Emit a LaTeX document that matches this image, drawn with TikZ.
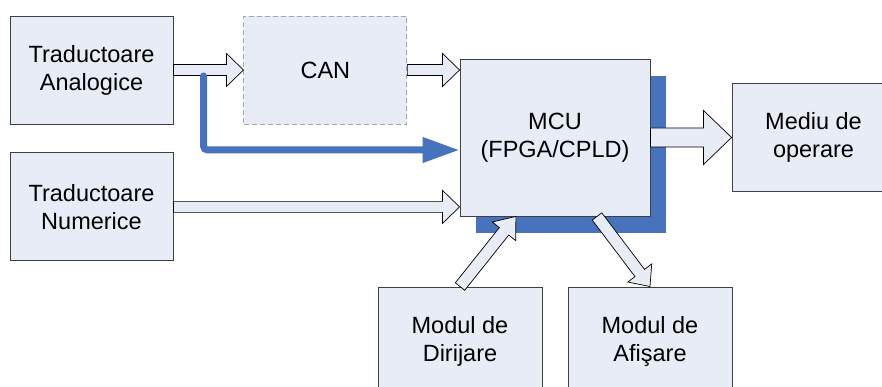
\documentclass[tikz,border=0pt]{standalone}
\usepackage{fontspec}
\setmainfont{Liberation Sans}
\usetikzlibrary{arrows.meta, positioning, calc, backgrounds}
\definecolor{boxfill}{RGB}{232,236,247}
\definecolor{boxline}{RGB}{64,64,64}
\definecolor{mcublue}{RGB}{70,114,190}

% hollow block arrow: shaft half width, head half width, head length, from, to
\newcommand\fatarrow[5]{%
  \coordinate (fa-base) at ($(#5)!#3!(#4)$);
  \filldraw[fatarr] ($(#4)!#1!90:(#5)$) -- ($(fa-base)!#1!90:(#5)$)
    -- ($(fa-base)!#2!90:(#5)$) -- (#5) -- ($(fa-base)!#2!-90:(#5)$)
    -- ($(fa-base)!#1!-90:(#5)$) -- ($(#4)!#1!-90:(#5)$) -- cycle;
}

\begin{document}
\begin{tikzpicture}[
  x=1pt, y=-1pt,
  box/.style    = {rectangle, draw=boxline, fill=boxfill, line width=0.9pt,
                   minimum width=163pt, minimum height=108pt, inner sep=0pt,
                   align=center, font=\fontsize{23.5}{28}\selectfont},
  fatarr/.style = {draw=black, fill=boxfill, line width=0.7pt, line join=miter},
  sig/.style    = {draw=mcublue, line width=7pt, line cap=round,
                   rounded corners=4pt, -{Triangle[length=37pt, width=24pt]}},
]
  \useasboundingbox (0,0) rectangle (882,387);
  \node[box] (ta) at (91.5,70) {Traductoare\\Analogice};
  \node[box, draw=gray!70, dash pattern=on 5pt off 3pt, right=70pt of ta] (can) {CAN};
  \node[box, below=28pt of ta] (tn) {Traductoare\\Numerice};
  \node[box, minimum width=190pt, minimum height=157pt] (mcu) at (555,137.5)
    {MCU\\(FPGA/CPLD)};
  \scoped[on background layer]
    \fill[mcublue] ([shift={(16,17)}]mcu.north west)
      rectangle ([shift={(16,17)}]mcu.south east);
  \node[box] (med) at (813.5,137) {Mediu de\\operare};
  \node[box, minimum width=164pt] (dir) at (460,341) {Modul de\\Dirijare};
  \node[box, minimum width=164pt] (afs) at (650,341) {Modul de\\Afişare};

  \coordinate (canin) at (can.east -| mcu.west);
  \coordinate (tnin)  at (tn.east -| mcu.west);
  \coordinate (medin) at (mcu.east -| med.west);
  \coordinate (dirin) at ($(mcu.south west)!0.295!(mcu.south east)$);
  \coordinate (afsout) at ($(mcu.south west)!0.72!(mcu.south east)$);
  \coordinate (split) at ($(ta.east)!0.43!(can.west)$);

  \fatarrow{5.5pt}{16.5pt}{17pt}{ta.east}{can.west}
  \fatarrow{5.5pt}{16.5pt}{17pt}{can.east}{canin}
  \fatarrow{5.5pt}{16.5pt}{17pt}{tn.east}{tnin}
  \fatarrow{9.5pt}{27pt}{28pt}{mcu.east}{medin}
  \fatarrow{6pt}{15pt}{19pt}{dir.north}{dirin}
  \fatarrow{6pt}{15pt}{17pt}{afsout}{afs.north}

  \draw[sig] ([yshift=-6pt]split) |- ([yshift=-12.5pt]mcu.west);
\end{tikzpicture}
\end{document}
